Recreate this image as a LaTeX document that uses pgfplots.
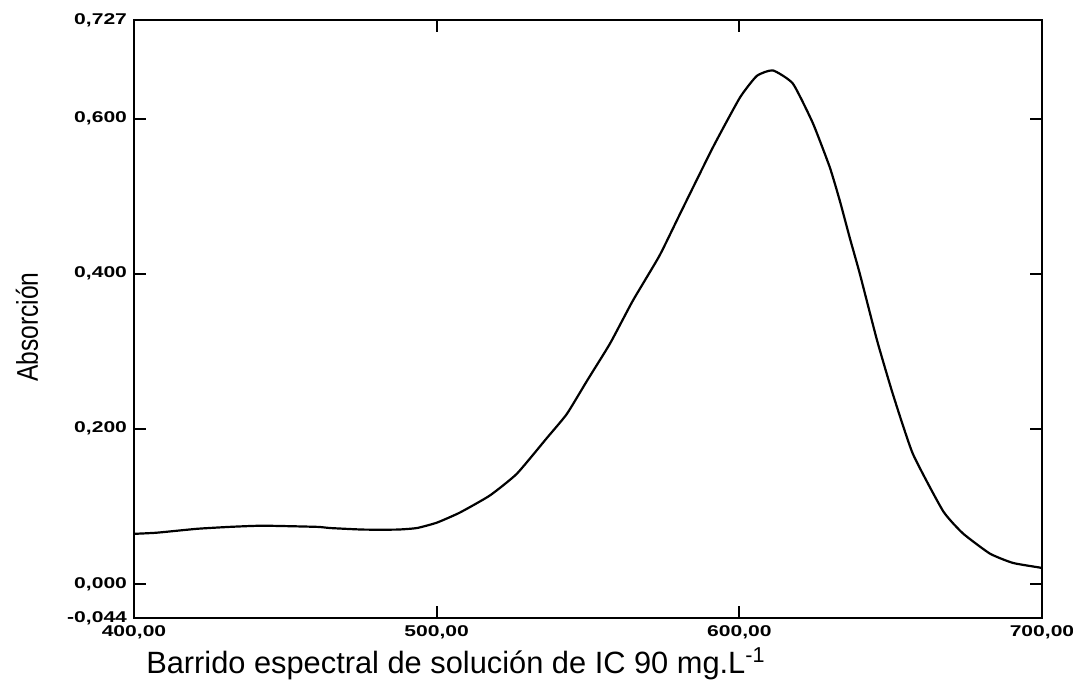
\documentclass[border=0pt]{standalone}
\usepackage{fontspec}
\setmainfont{Liberation Sans}
\newfontfamily\tickfont[FakeStretch=1.35]{Liberation Sans}
\usepackage{graphicx}
\usepackage{pgfplots}
\pgfplotsset{compat=1.18}
\begin{document}
\begin{tikzpicture}
\begin{axis}[
  scale only axis,
  width=454pt, height=299pt,
  xmin=400, xmax=700, ymin=-0.044, ymax=0.727,
  axis line style={line width=1.3pt},
  tick style={line width=1pt, black},
  major tick length=6pt,
  tick align=inside,
  xtick={400,500,600,700},
  xticklabels={{400,00},{500,00},{600,00},{700,00}},
  ytick={-0.044,0,0.2,0.4,0.6,0.727},
  yticklabels={{-0,044},{0,000},{0,200},{0,400},{0,600},{0,727}},
  ticklabel style={font=\tickfont\fontsize{7.8}{8}\selectfont\bfseries},
  xticklabel style={yshift=-2.5pt, inner sep=1pt},
  yticklabel style={xshift=0pt},
  xlabel={Barrido espectral de solución de IC 90 mg.L\textsuperscript{-1}},
  xlabel style={font=\fontsize{15.4}{17}\selectfont, at={(axis description cs:0.3546,0)}, anchor=center, yshift=-23pt, inner sep=0pt},
  ylabel={\scalebox{0.82}[1]{Absorción}},
  ylabel style={font=\fontsize{15}{16}\selectfont, at={(axis description cs:-0.1178,0.4866)}, anchor=center},
]
\addplot[black, line width=1.1pt, smooth, tension=0.3] coordinates {
(400,0.0645) (407.6,0.066) (420.8,0.071) (431.7,0.0735) (442.6,0.075)
(460.5,0.0735) (464.8,0.072) (475.7,0.070) (486.9,0.070) (493.5,0.072)
(500.1,0.079) (507.7,0.092) (517.6,0.114) (526.5,0.142) (536.4,0.188)
(543.0,0.219) (549.7,0.262) (557.3,0.310) (564.8,0.365) (573.6,0.423)
(580.4,0.477) (591.3,0.563) (600.2,0.627) (605.8,0.655) (611.1,0.662)
(617.7,0.645) (624.3,0.594) (629.9,0.537) (633.2,0.494) (636.5,0.446)
(639.8,0.400) (645.5,0.314) (650.7,0.245) (657.3,0.168) (667.3,0.094)
(673.9,0.065) (682.8,0.039) (690.4,0.027) (699.3,0.021) (700,0.020)
};
\end{axis}
\pgfresetboundingbox
\path[use as bounding box] (-67pt,-40pt) rectangle (469.5pt,309pt);
\end{tikzpicture}
\end{document}
